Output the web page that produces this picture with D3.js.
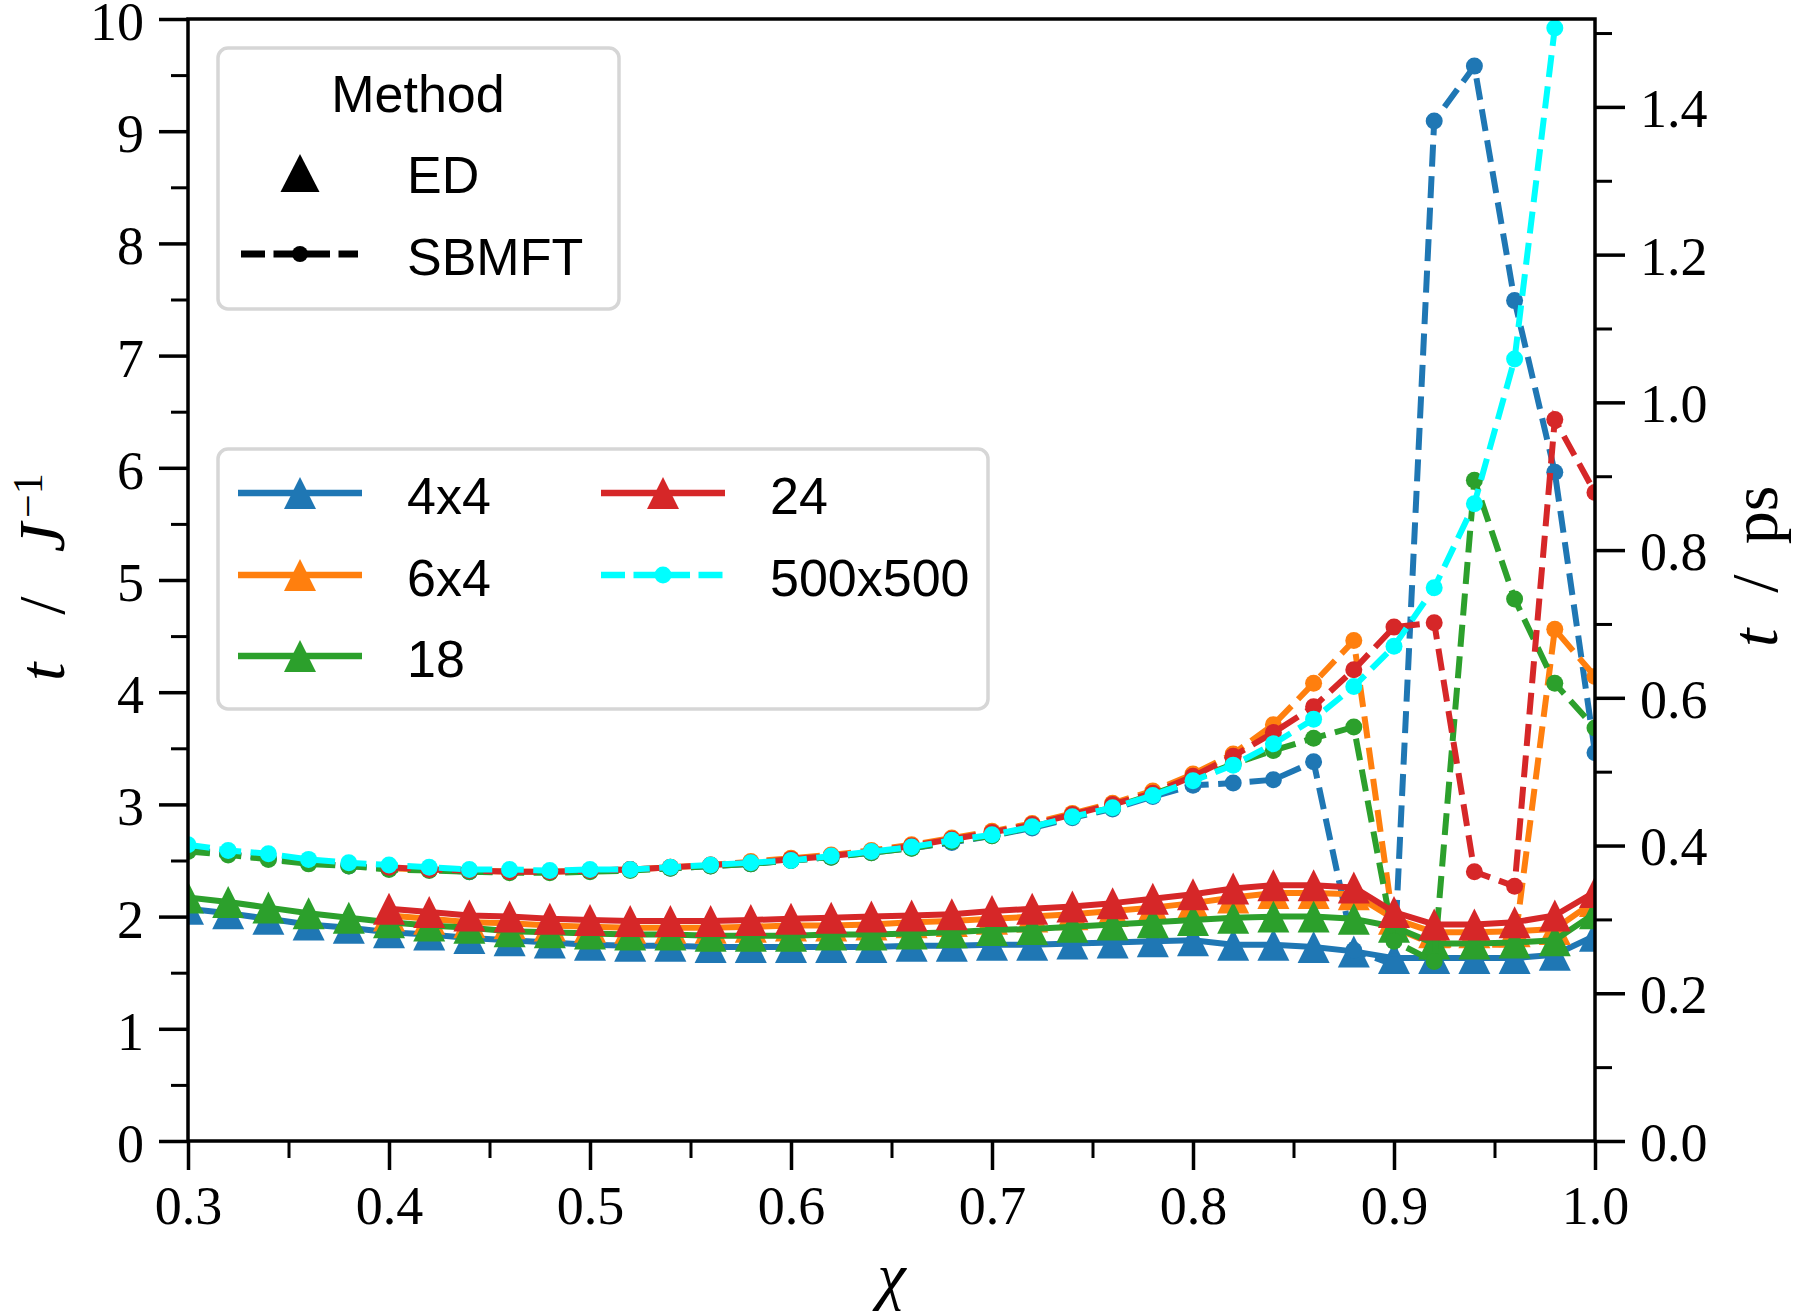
<!DOCTYPE html>
<html>
<head>
<meta charset="utf-8">
<script src="https://cdn.jsdelivr.net/npm/d3@7"></script>
<style>
  body { margin: 0; background: #fff; }
</style>
</head>
<body>
<svg id="chart" width="1795" height="1314"></svg>
<script>
// chi values (x axis)
const chi = [0.30, 0.32, 0.34, 0.36, 0.38, 0.40, 0.42, 0.44, 0.46, 0.48,
             0.50, 0.52, 0.54, 0.56, 0.58, 0.60, 0.62, 0.64, 0.66, 0.68,
             0.70, 0.72, 0.74, 0.76, 0.78, 0.80, 0.82, 0.84, 0.86, 0.88,
             0.90, 0.92, 0.94, 0.96, 0.98, 1.00];

// ED results, t in units of 1/J
const ed_4x4 = [2.07, 2.03, 1.98, 1.93, 1.90, 1.86, 1.84, 1.81, 1.79, 1.77,
                1.75, 1.74, 1.74, 1.73, 1.73, 1.73, 1.73, 1.73, 1.74, 1.74,
                1.75, 1.75, 1.76, 1.77, 1.78, 1.79, 1.75, 1.75, 1.73, 1.69,
                1.63, 1.63, 1.63, 1.63, 1.66, 1.83];
const ed_6x4 = [null, null, null, null, null, 2.01, 1.98, 1.95, 1.94, 1.92,
                1.91, 1.90, 1.90, 1.90, 1.91, 1.92, 1.92, 1.93, 1.95, 1.96,
                1.98, 2.00, 2.02, 2.05, 2.08, 2.12, 2.17, 2.21, 2.21, 2.20,
                1.98, 1.86, 1.86, 1.87, 1.89, 2.14];
const ed_18 = [2.17, 2.13, 2.08, 2.03, 1.99, 1.95, 1.92, 1.90, 1.87, 1.86,
               1.85, 1.84, 1.84, 1.83, 1.83, 1.83, 1.84, 1.84, 1.85, 1.86,
               1.88, 1.89, 1.91, 1.93, 1.95, 1.97, 1.99, 2.00, 2.00, 1.98,
               1.91, 1.76, 1.76, 1.77, 1.79, 2.03];
const ed_24 = [null, null, null, null, null, 2.07, 2.04, 2.01, 2.00, 1.98,
               1.97, 1.96, 1.96, 1.96, 1.97, 1.98, 1.99, 2.00, 2.01, 2.02,
               2.05, 2.07, 2.09, 2.12, 2.16, 2.20, 2.25, 2.28, 2.28, 2.26,
               2.04, 1.93, 1.93, 1.95, 2.01, 2.22];

// SBMFT results
const sb_4x4 = [2.60, 2.56, 2.52, 2.48, 2.45, 2.43, 2.42, 2.40, 2.40, 2.40,
                2.41, 2.42, 2.43, 2.45, 2.47, 2.50, 2.53, 2.57, 2.61, 2.66,
                2.72, 2.79, 2.88, 2.96, 3.07, 3.17, 3.19, 3.22, 3.38, 1.70,
                1.57, 9.09, 9.58, 7.49, 5.96, 3.46];
const sb_6x4 = [null, null, null, null, null, 2.43, 2.42, 2.41, 2.40, 2.40,
                2.41, 2.42, 2.44, 2.46, 2.49, 2.52, 2.55, 2.59, 2.64, 2.70,
                2.76, 2.83, 2.92, 3.01, 3.12, 3.27, 3.45, 3.71, 4.08, 4.46,
                1.90, 1.75, 1.75, 1.75, 4.56, 4.14];
const sb_18 = [2.58, 2.55, 2.51, 2.47, 2.45, 2.42, 2.41, 2.40, 2.39, 2.39,
               2.40, 2.41, 2.43, 2.45, 2.47, 2.50, 2.53, 2.57, 2.61, 2.67,
               2.72, 2.80, 2.89, 2.97, 3.09, 3.22, 3.36, 3.48, 3.59, 3.69,
               1.78, 1.60, 5.89, 4.83, 4.08, 3.68];
const sb_24 = [null, null, null, null, null, 2.44, 2.42, 2.41, 2.40, 2.40,
               2.41, 2.42, 2.44, 2.46, 2.48, 2.51, 2.54, 2.58, 2.63, 2.69,
               2.75, 2.82, 2.91, 3.00, 3.10, 3.25, 3.43, 3.64, 3.87, 4.20,
               4.58, 4.62, 2.40, 2.27, 6.43, 5.78];
const sb_500x500 = [2.64, 2.59, 2.56, 2.51, 2.48, 2.46, 2.44, 2.42, 2.42, 2.41,
                    2.42, 2.42, 2.44, 2.46, 2.48, 2.50, 2.54, 2.58, 2.62, 2.68,
                    2.73, 2.80, 2.89, 2.97, 3.08, 3.21, 3.35, 3.54, 3.76, 4.05,
                    4.41, 4.93, 5.68, 6.97, 9.92, null];

// ticks
const xTicks = [0.3, 0.4, 0.5, 0.6, 0.7, 0.8, 0.9, 1.0];
const xMinor = [0.35, 0.45, 0.55, 0.65, 0.75, 0.85, 0.95];
const yTicks = [0, 1, 2, 3, 4, 5, 6, 7, 8, 9, 10];
const yMinor = [0.5, 1.5, 2.5, 3.5, 4.5, 5.5, 6.5, 7.5, 8.5, 9.5];
const psTicks = [0.0, 0.2, 0.4, 0.6, 0.8, 1.0, 1.2, 1.4];
const psMinor = [0.1, 0.3, 0.5, 0.7, 0.9, 1.1, 1.3, 1.5];
const psPerJ = 0.1519;   // 1/J expressed in ps

const labels = ["4x4", "6x4", "18", "24", "500x500"];

const colors = {"4x4": "#1f77b4", "6x4": "#ff7f0e", "18": "#2ca02c", "24": "#d62728", "500x500": "#00ffff"};

let chart = d3.select("#chart");
let plotLeft = 188, plotRight = 1595, plotTop = 19, plotBottom = 1141;

chart.append("rect").attr("width", 1795).attr("height", 1314).attr("fill", "white");

let xScale = d3.scaleLinear().domain([0.3, 1.0]).range([plotLeft, plotRight]);
let yScale = d3.scaleLinear().domain([0, 10]).range([plotBottom, plotTop]);
let psScale = d3.scaleLinear().domain([0, 10 * psPerJ]).range([plotBottom, plotTop]);

chart.append("clipPath").attr("id", "plotclip")
    .append("rect")
        .attr("x", plotLeft).attr("y", plotTop)
        .attr("width", plotRight - plotLeft).attr("height", plotBottom - plotTop);

let plot = chart.append("g").attr("clip-path", "url(#plotclip)");

let line = d3.line()
    .defined(function(d) { return d[1] != null; })
    .x(function(d) { return xScale(d[0]); })
    .y(function(d) { return yScale(d[1]); });

function pairs(vals) {
    return chi.map(function(c, i) { return [c, vals[i]]; });
}

const triPath = "M0,-16L16,16L-16,16Z";

function drawED(vals, color) {
    let pts = pairs(vals);
    plot.append("path")
        .attr("d", line(pts))
        .attr("fill", "none")
        .attr("stroke", color)
        .attr("stroke-width", 6)
        .attr("stroke-linejoin", "round");
    plot.selectAll(null)
        .data(pts.filter(function(d) { return d[1] != null; })).enter()
            .append("path")
                .attr("d", triPath)
                .attr("transform", function(d) { return "translate(" + xScale(d[0]) + "," + yScale(d[1]) + ")"; })
                .attr("fill", color);
}

function drawSB(vals, color) {
    let pts = pairs(vals);
    plot.append("path")
        .attr("d", line(pts))
        .attr("fill", "none")
        .attr("stroke", color)
        .attr("stroke-width", 6)
        .attr("stroke-dasharray", "22,9.5");
    plot.selectAll(null)
        .data(pts.filter(function(d) { return d[1] != null; })).enter()
            .append("circle")
                .attr("cx", function(d) { return xScale(d[0]); })
                .attr("cy", function(d) { return yScale(d[1]); })
                .attr("r", 8.5)
                .attr("fill", color);
}

drawED(ed_4x4, colors["4x4"]);
drawSB(sb_4x4, colors["4x4"]);
drawED(ed_6x4, colors["6x4"]);
drawSB(sb_6x4, colors["6x4"]);
drawED(ed_18, colors["18"]);
drawSB(sb_18, colors["18"]);
drawED(ed_24, colors["24"]);
drawSB(sb_24, colors["24"]);
drawSB(sb_500x500, colors["500x500"]);

// axes
function styleAxis(g, width) {
    g.attr("font-family", "'Liberation Serif', 'DejaVu Serif', serif").attr("font-size", 54);
    g.select(".domain").remove();
    g.selectAll("line").attr("stroke", "black").attr("stroke-width", width);
    g.selectAll("text").attr("fill", "black");
}

chart.append("g")
    .attr("transform", "translate(0," + plotBottom + ")")
    .call(d3.axisBottom(xScale).tickValues(xTicks).tickFormat(d3.format(".1f")).tickSize(29).tickPadding(16))
    .call(styleAxis, 3.5);
chart.append("g")
    .attr("transform", "translate(0," + plotBottom + ")")
    .call(d3.axisBottom(xScale).tickValues(xMinor).tickFormat("").tickSize(17))
    .call(styleAxis, 3);

chart.append("g")
    .attr("transform", "translate(" + plotLeft + ",0)")
    .call(d3.axisLeft(yScale).tickValues(yTicks).tickFormat(d3.format("d")).tickSize(29).tickPadding(15))
    .call(styleAxis, 3.5)
    .selectAll("text").attr("dy", "0.38em");
chart.append("g")
    .attr("transform", "translate(" + plotLeft + ",0)")
    .call(d3.axisLeft(yScale).tickValues(yMinor).tickFormat("").tickSize(17))
    .call(styleAxis, 3);

chart.append("g")
    .attr("transform", "translate(" + plotRight + ",0)")
    .call(d3.axisRight(psScale).tickValues(psTicks).tickFormat(d3.format(".1f")).tickSize(30).tickPadding(15))
    .call(styleAxis, 3.5)
    .selectAll("text").attr("dy", "0.36em");
chart.append("g")
    .attr("transform", "translate(" + plotRight + ",0)")
    .call(d3.axisRight(psScale).tickValues(psMinor).tickFormat("").tickSize(17))
    .call(styleAxis, 3);

// spines
chart.append("rect")
    .attr("x", plotLeft).attr("y", plotTop)
    .attr("width", plotRight - plotLeft).attr("height", plotBottom - plotTop)
    .attr("fill", "none")
    .attr("stroke", "black")
    .attr("stroke-width", 3.5);

// axis labels
const serif = "'Liberation Serif', 'DejaVu Serif', serif";

chart.append("text")
    .attr("x", (plotLeft + plotRight) / 2)
    .attr("y", 1297)
    .attr("text-anchor", "middle")
    .attr("font-family", serif)
    .attr("font-style", "italic")
    .attr("font-size", 64)
    .text("χ");

let ylab = chart.append("text")
    .attr("transform", "translate(64,681) rotate(-90)")
    .attr("font-family", serif)
    .attr("font-size", 66);
ylab.append("tspan").attr("font-style", "italic").text("t");
ylab.append("tspan").attr("dx", 48).text("/");
ylab.append("tspan").attr("dx", 44).attr("font-style", "italic").text("J");
ylab.append("tspan").attr("dx", 5).attr("font-size", 42).attr("dy", -22).text("−1");

let y2lab = chart.append("text")
    .attr("transform", "translate(1777,647) rotate(-90)")
    .attr("font-family", serif)
    .attr("font-size", 66);
y2lab.append("tspan").attr("font-style", "italic").text("t");
y2lab.append("tspan").attr("dx", 36).text("/");
y2lab.append("tspan").attr("dx", 30).text("ps");

// legends
const sans = "'Liberation Sans', Arial, sans-serif";

chart.append("rect")
    .attr("x", 218).attr("y", 48).attr("width", 401).attr("height", 261)
    .attr("rx", 10)
    .attr("fill", "white").attr("fill-opacity", 0.8)
    .attr("stroke", "#d6d6d6").attr("stroke-width", 3.5);

chart.append("text").text("Method")
    .attr("x", 418).attr("y", 112)
    .attr("text-anchor", "middle")
    .attr("font-family", sans).attr("font-size", 52);

chart.append("path")
    .attr("d", "M0,-19L19.5,19L-19.5,19Z")
    .attr("transform", "translate(300,173)")
    .attr("fill", "black");
chart.append("text").text("ED")
    .attr("x", 407).attr("y", 193)
    .attr("font-family", sans).attr("font-size", 52);

chart.append("line")
    .attr("x1", 241).attr("x2", 358).attr("y1", 254).attr("y2", 254)
    .attr("stroke", "black").attr("stroke-width", 7)
    .attr("stroke-dasharray", "24,8.5");
chart.append("circle").attr("cx", 300).attr("cy", 254).attr("r", 8).attr("fill", "black");
chart.append("text").text("SBMFT")
    .attr("x", 407).attr("y", 275)
    .attr("font-family", sans).attr("font-size", 52);

chart.append("rect")
    .attr("x", 218).attr("y", 449).attr("width", 770).attr("height", 260)
    .attr("rx", 10)
    .attr("fill", "white").attr("fill-opacity", 0.8)
    .attr("stroke", "#d6d6d6").attr("stroke-width", 3.5);

const legendSlots = [
    {name: "4x4", x: 238, y: 493, dashed: false},
    {name: "6x4", x: 238, y: 575, dashed: false},
    {name: "18", x: 238, y: 656, dashed: false},
    {name: "24", x: 601, y: 493, dashed: false},
    {name: "500x500", x: 601, y: 575, dashed: true}
];

legendSlots.forEach(function(s) {
    let c = colors[s.name];
    let ln = chart.append("line")
        .attr("x1", s.x).attr("x2", s.x + 124)
        .attr("y1", s.y).attr("y2", s.y)
        .attr("stroke", c).attr("stroke-width", 6.5);
    if (s.dashed) {
        ln.attr("stroke-dasharray", "24,8.5");
        chart.append("circle").attr("cx", s.x + 62).attr("cy", s.y).attr("r", 8.5).attr("fill", c);
    } else {
        chart.append("path").attr("d", triPath)
            .attr("transform", "translate(" + (s.x + 62) + "," + s.y + ")")
            .attr("fill", c);
    }
    chart.append("text").text(s.name)
        .attr("x", s.x + 169).attr("y", s.y + 21)
        .attr("font-family", sans).attr("font-size", 52);
});
</script>
</body>
</html>
